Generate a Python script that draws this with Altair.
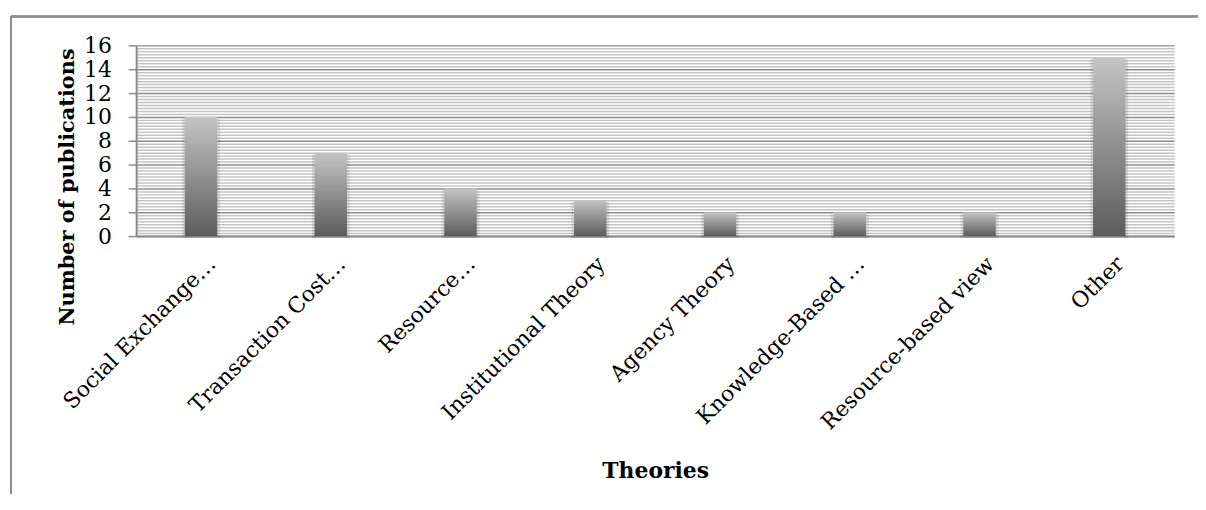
import altair as alt
import pandas as pd

categories = ["Social Exchange…", "Transaction Cost…", "Resource…", "Institutional Theory",
              "Agency Theory", "Knowledge-Based …", "Resource-based view", "Other"]
values = [10, 7, 4, 3, 2, 2, 2, 15]
y_ticks = [i * 0.25 for i in range(65)]

df = pd.DataFrame({"theory": categories, "count": values})

FONT = "DejaVu Serif"
W, H = 1045, 192

x_enc = alt.X("theory:N", sort=None, title="Theories",
              scale=alt.Scale(paddingInner=0.75, paddingOuter=0.375),
              axis=alt.Axis(labelAngle=-45, labelAlign="right", labelBaseline="top",
                            labelPadding=17, labelOffset=4, ticks=False,
                            labelFont=FONT, labelFontSize=22, labelColor="#000",
                            titleFont=FONT, titleFontSize=22, titleFontWeight="bold",
                            titleColor="#000", titleY=243, titleBaseline="alphabetic",
                            domainColor="#8a8a8a", domainWidth=2, labelLimit=400))

y_enc = alt.Y("count:Q", title="Number of publications",
              scale=alt.Scale(domain=[0, 16], nice=False),
              axis=alt.Axis(values=y_ticks,
                            labelExpr="datum.value % 2 === 0 ? format(datum.value, 'd') : ''",
                            grid=True,
                            gridColor={"condition": {"test": "datum.value % 2 === 0", "value": "#8c8c8c"},
                                       "value": "#c4c4c4"},
                            gridWidth=1.5,
                            tickOpacity={"condition": {"test": "datum.value % 2 === 0", "value": 1},
                                         "value": 0},
                            tickColor="#8c8c8c", tickSize=8, tickWidth=1.5,
                            labelPadding=17, labelFont=FONT, labelFontSize=22, labelColor="#000",
                            labelBaseline="middle", labelOverlap=False,
                            domainColor="#8a8a8a", domainWidth=2,
                            titleFont=FONT, titleFontSize=21, titleFontWeight="bold",
                            titleColor="#000", titleX=-63, titleY=142, titleAngle=-90,
                            titleBaseline="alphabetic", titleAlign="center"))

grad = alt.Gradient(gradient="linear",
                    stops=[alt.GradientStop(offset=0, color="#c4c4c4"),
                           alt.GradientStop(offset=1, color="#5c5c5c")],
                    x1=0, x2=0, y1=0, y2=1)

shadow = alt.Chart(df).mark_bar(size=38, color="#000000", opacity=0.10, yOffset=2).encode(
    x=x_enc, y=y_enc)
bars = alt.Chart(df).mark_bar(color=grad).encode(x=x_enc, y=y_enc)

border_top = alt.Chart(df).mark_rule(color="#8e8e8e", strokeWidth=1.5).encode(
    x=alt.value(-126), x2=alt.value(1100), y=alt.value(-29))
border_left = alt.Chart(df).mark_rule(color="#8e8e8e", strokeWidth=1.5).encode(
    x=alt.value(-126), y=alt.value(-29), y2=alt.value(600))

chart = alt.layer(shadow, bars, border_top, border_left).properties(
    width=W, height=H,
    autosize=alt.AutoSizeParams(type="none"),
    padding={"left": 129, "top": 36, "right": 24, "bottom": 258},
    background="white",
).configure_view(stroke=None)

chart.save("out.html", embed_options={"renderer": "svg", "actions": False})
